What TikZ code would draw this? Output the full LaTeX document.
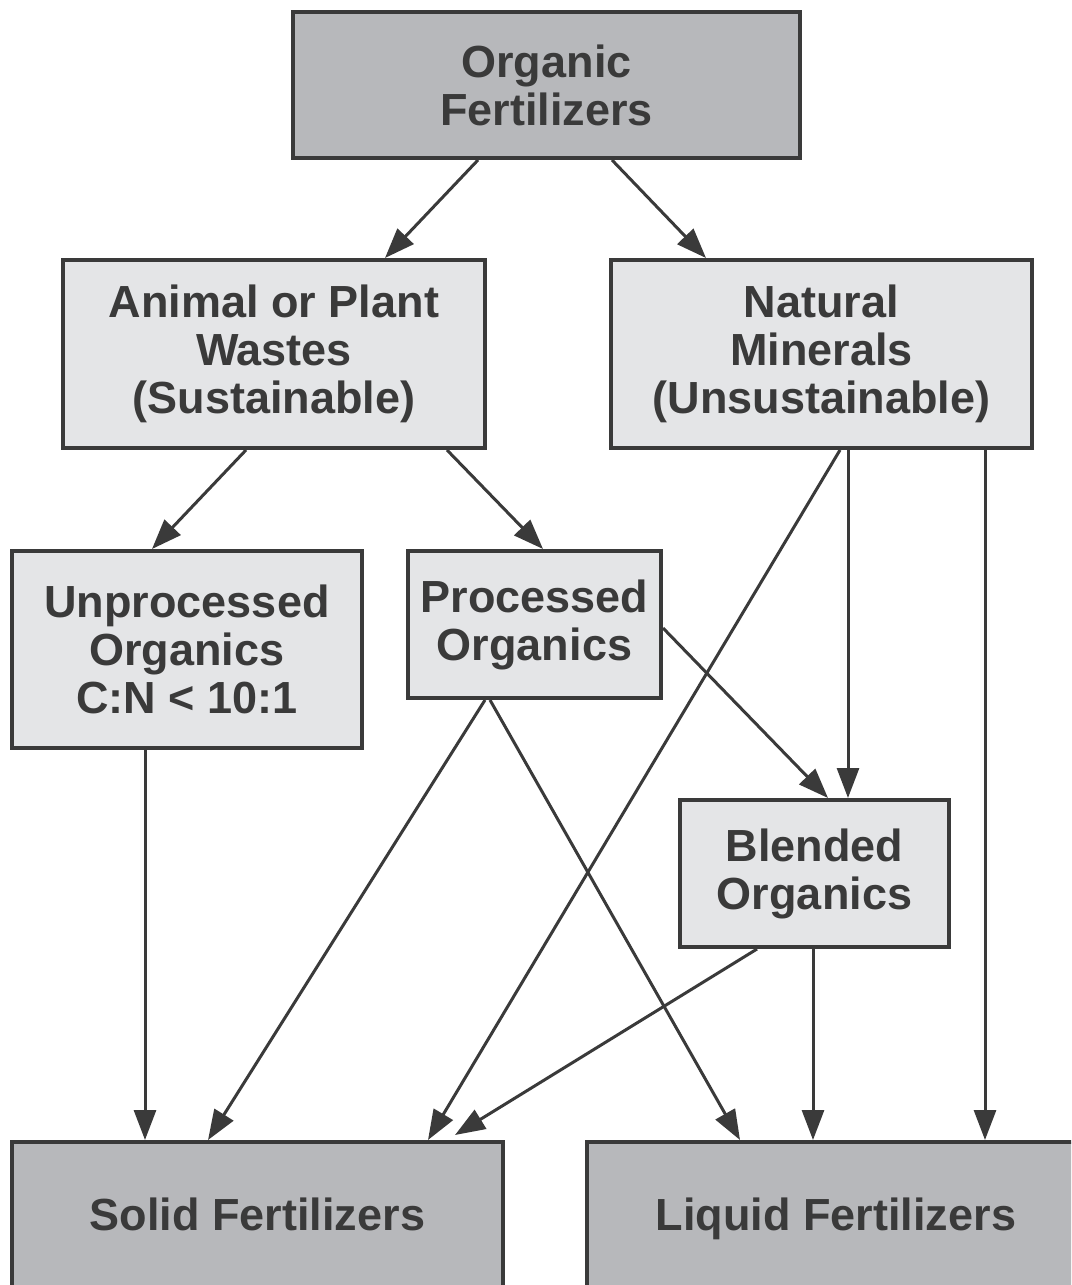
\documentclass[tikz,border=0pt]{standalone}
\usepackage{fontspec}
\setmainfont{Liberation Sans}
\usetikzlibrary{arrows.meta,calc}
\definecolor{boxdark}{HTML}{B7B8BB}
\definecolor{boxlight}{HTML}{E4E5E7}
\definecolor{ink}{HTML}{3A3A3A}
\newcommand{\newBox}[4]{\node[box,#3](#1) at #4 {#2};}
\newcommand{\newArrow}[2]{\draw[arrow] (#1) -- (#2);}

\begin{document}
\begin{tikzpicture}[
    % one unit = one pixel of the reference, y running down
    x=1pt,y=-1pt,
    % boxes
    box/.style={draw=ink,line width=4pt,inner sep=0pt,align=center,text=ink,
      font=\fontsize{45}{48}\selectfont\bfseries},
    main/.style={fill=boxdark},
    sub/.style={fill=boxlight},
    bottom/.style={main,text height=33pt,text depth=10pt},
    % connectors
    arrow/.style={draw=ink,line width=3pt,-{Triangle[length=30pt,width=22pt]}}
    ]
    \useasboundingbox (0,0) rectangle (1071,1285);
    \clip (0,0) rectangle (1071,1285);

    \newBox{organic}{Organic\\Fertilizers}{main,minimum width=507,minimum height=146}{(546.5,85)}
    \newBox{wastes}{Animal or Plant\\Wastes\\(Sustainable)}{sub,minimum width=422,minimum height=188}{(274,354)}
    \newBox{minerals}{Natural\\Minerals\\(Unsustainable)}{sub,minimum width=421,minimum height=188}{(821.5,354)}
    \newBox{unproc}{Unprocessed\\Organics\\C:N < 10:1}{sub,minimum width=350,minimum height=197}{(187,649.5)}
    \newBox{proc}{Processed\\Organics}{sub,minimum width=253,minimum height=147}{(534.5,624.5)}
    \newBox{blended}{Blended\\Organics}{sub,minimum width=269,minimum height=147}{(814.5,873.5)}
    \newBox{solid}{Solid Fertilizers}{bottom,minimum width=491,minimum height=153}{(257.5,1218.5)}
    \newBox{liquid}{Liquid Fertilizers}{bottom,minimum width=498,minimum height=153}{(836,1218.5)}

    \newArrow{$(organic.south)+(-68.5,0)$}{$(wastes.north)+(111,0)$}
    \newArrow{$(organic.south)+(65.5,0)$}{$(minerals.north)+(-115.5,0)$}
    \newArrow{$(wastes.south)+(-28,0)$}{$(unproc.north)+(-35,0)$}
    \newArrow{$(wastes.south)+(173,0)$}{$(proc.north)+(8.5,0)$}
    \newArrow{$(minerals.south)+(26.5,0)$}{$(blended.north)+(33.5,0)$}
    \newArrow{$(minerals.south)+(18.5,0)$}{$(solid.north)+(170.5,0)$}
    \newArrow{$(minerals.south)+(163.5,0)$}{$(liquid.north)+(149,0)$}
    \newArrow{$(proc.east)+(0,3.5)$}{$(blended.north)+(13.5,0)$}
    \newArrow{$(proc.south)+(-49.5,0)$}{$(solid.north)+(-49.5,0)$}
    \newArrow{$(proc.south)+(-44.5,0)$}{$(liquid.north)+(-96,0)$}
    \newArrow{$(unproc.south)+(-42,0)$}{$(solid.north)+(-112.5,0)$}
    \newArrow{$(blended.south)+(-57.5,0)$}{$(solid.north)+(197.5,-5)$}
    \newArrow{$(blended.south)+(-1.5,0)$}{$(liquid.north)+(-23,0)$}
\end{tikzpicture}
\end{document}
